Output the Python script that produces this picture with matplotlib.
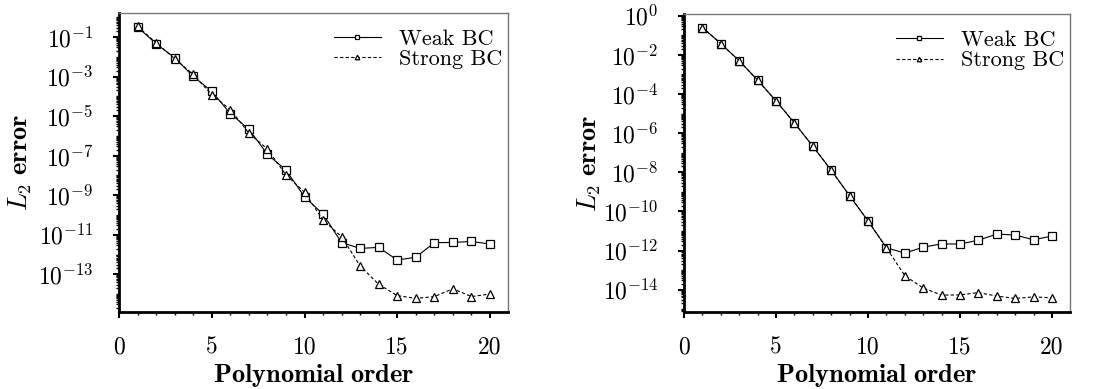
import numpy as np
import matplotlib
matplotlib.use('Agg')
import matplotlib.pyplot as plt
from matplotlib.ticker import FixedLocator, FuncFormatter, MultipleLocator, NullFormatter

plt.rcParams['font.family'] = 'serif'
plt.rcParams['font.serif'] = ['cmr10']
plt.rcParams['mathtext.fontset'] = 'cm'
plt.rcParams['axes.unicode_minus'] = False

order = np.arange(1, 21)

# left panel (log10 of L2 error)
weak_left = [-0.49, -1.34, -2.04, -2.99, -3.74, -4.87, -5.66, -6.93, -7.73, -9.08,
             -9.96, -11.40, -11.69, -11.64, -12.28, -12.14, -11.40, -11.39, -11.34, -11.47]
strong_left = [-0.46, -1.29, -2.09, -2.89, -3.91, -4.67, -5.85, -6.67, -7.97, -8.85,
               -10.26, -11.10, -12.58, -13.51, -14.08, -14.22, -14.13, -13.73, -14.13, -14.00]

# right panel (log10 of L2 error)
weak_right = [-0.60, -1.42, -2.30, -3.29, -4.35, -5.48, -6.67, -7.90, -9.20, -10.49,
              -11.86, -12.13, -11.83, -11.66, -11.67, -11.47, -11.16, -11.21, -11.45, -11.26]
strong_right = [-0.60, -1.42, -2.30, -3.29, -4.35, -5.48, -6.67, -7.90, -9.20, -10.49,
                -11.86, -13.29, -13.92, -14.28, -14.27, -14.15, -14.33, -14.45, -14.37, -14.42]

left_decades = [-1, -3, -5, -7, -9, -11, -13]
right_decades = [0, -2, -4, -6, -8, -10, -12, -14]


def style_axes(ax, major_decades):
    ax.set_yscale('log')
    ax.set_xlim(0, 20.95)
    ax.xaxis.set_major_locator(MultipleLocator(5))
    ax.xaxis.set_minor_locator(MultipleLocator(1))
    ax.xaxis.set_major_formatter(FuncFormatter(lambda v, p: '%d' % v))

    minor = []
    for d in range(-17, 2):
        for s in range(1, 10):
            if s == 1 and d in major_decades:
                continue
            minor.append(s * 10.0 ** d)
    ax.yaxis.set_major_locator(FixedLocator([10.0 ** d for d in major_decades]))
    ax.yaxis.set_minor_locator(FixedLocator(minor))
    ax.yaxis.set_major_formatter(FuncFormatter(lambda v, p: r'$10^{%d}$' % round(np.log10(v))))
    ax.yaxis.set_minor_formatter(NullFormatter())

    for side in ['left', 'bottom']:
        ax.spines[side].set_linewidth(2.0)
    for side in ['top', 'right']:
        ax.spines[side].set_linewidth(1.0)
        ax.spines[side].set_color('#777777')

    ax.tick_params(which='major', direction='out', length=4.5, width=1.5,
                   labelsize=17, pad=13)
    ax.tick_params(axis='y', which='major', pad=14)
    ax.tick_params(which='minor', direction='out', length=2.5, width=1.0)
    ax.tick_params(top=False, right=False, which='both')

    ax.set_xlabel(r'$\mathbf{Polynomial\ order}$', fontsize=19, va='center')
    ax.set_ylabel(r'$L_2\ \mathbf{error}$', fontsize=19, va='center')
    ax.xaxis.set_label_coords(0.5, -0.214)


def draw(ax, weak, strong):
    ax.plot(order, 10.0 ** np.array(weak), color='black', lw=0.8, ls='-',
            marker='s', ms=5.5, mfc='white', mec='black', mew=0.9, label='Weak BC')
    ax.plot(order, 10.0 ** np.array(strong), color='black', lw=0.8, ls='--',
            dashes=(3, 2), marker='^', ms=5.5, mfc='white', mec='black', mew=0.9,
            label='Strong BC')
    ax.legend(loc='upper right', bbox_to_anchor=(0.985, 0.946), frameon=False,
              fontsize=16, handlelength=2.1, handletextpad=0.8, labelspacing=0.05,
              markerscale=0.6, borderaxespad=0, borderpad=0)


fig = plt.figure(figsize=(10.99, 3.89), dpi=100)
ax1 = fig.add_axes([0.1083, 0.198, 0.3536, 0.769])
ax2 = fig.add_axes([0.6224, 0.198, 0.3508, 0.766])

draw(ax1, weak_left, strong_left)
style_axes(ax1, left_decades)
ax1.yaxis.set_label_coords(-0.254, 0.5)

draw(ax2, weak_right, strong_right)
style_axes(ax2, right_decades)
ax2.yaxis.set_label_coords(-0.245, 0.5)

fig.savefig('out.png', dpi=100)
